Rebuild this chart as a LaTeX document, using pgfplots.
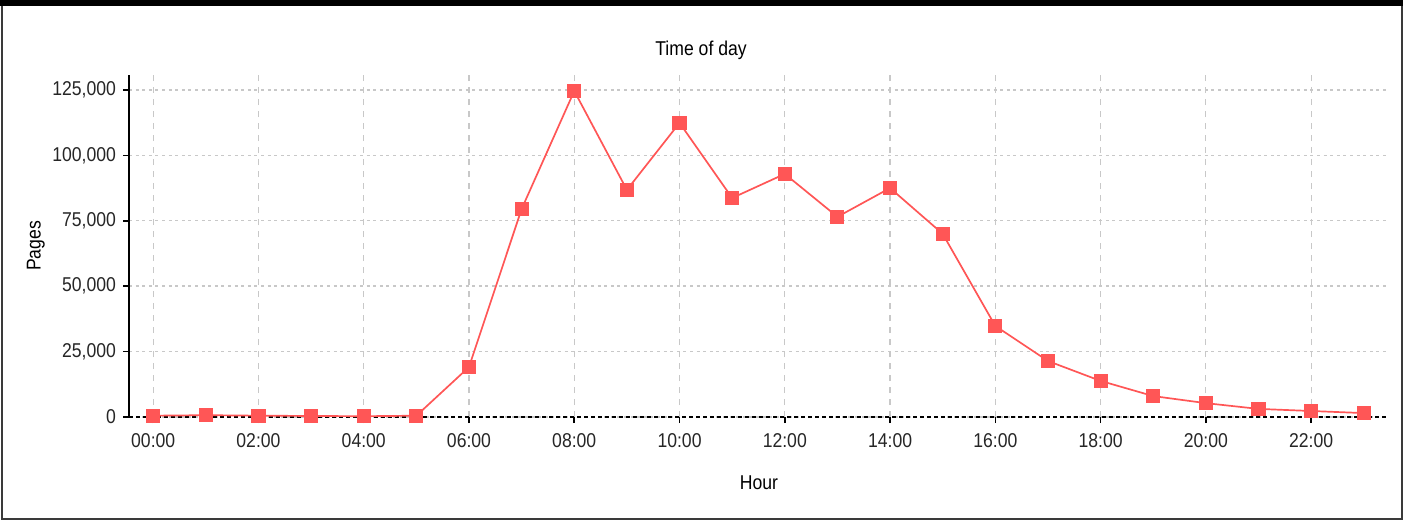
\documentclass[border=0pt]{standalone}
\usepackage{fontspec}
\setmainfont[FakeStretch=0.88]{Liberation Sans}
\usepackage{pgfplots}
\pgfplotsset{compat=1.18}
\definecolor{linered}{HTML}{FF5656}
\definecolor{gridgray}{HTML}{C8C8C8}
\definecolor{framegray}{HTML}{3A3A3A}
\begin{document}
\begin{tikzpicture}
  % page frame (1px = 0.5pt)
  \path (0,0) rectangle (706.5pt,-260.5pt);
  \draw[framegray, line width=1pt] (1pt,-1pt) rectangle (701pt,-259.5pt);
  \fill[black] (0,0) rectangle (701.5pt,-2.75pt);
  \begin{axis}[
      at={(64.5pt,-208.5pt)}, anchor=south west,
      scale only axis,
      width=630pt, height=171pt,
      xmin=-0.46, xmax=23.48,
      ymin=0, ymax=130700,
      axis lines*=left,
      x axis line style={black, line width=1pt, dash pattern=on 2pt off 1.5pt},
      y axis line style={black, line width=0.9pt},
      tick align=outside,
      major tick length=3pt,
      tick style={black, line width=0.8pt},
      xtick={0,2,...,22},
      xticklabels={00:00,02:00,04:00,06:00,08:00,10:00,12:00,14:00,16:00,18:00,20:00,22:00},
      ytick={0,25000,50000,75000,100000,125000},
      scaled y ticks=false,
      /pgf/number format/.cd, fixed, 1000 sep={,}, assume math mode=true,
      /pgfplots/.cd,
      ticklabel style={font=\fontsize{10}{12}\selectfont, text=black!85},
      xticklabel style={yshift=-1.5pt},
      xmajorgrids=true, ymajorgrids=true,
      x grid style={gridgray, line width=0.6pt, dash pattern=on 3pt off 3pt},
      y grid style={gridgray, line width=0.7pt, dash pattern=on 1.5pt off 1.8pt},
      title={Time of day},
      title style={at={(axis description cs:0.454,1.038)}, anchor=center, font=\fontsize{10}{12}\selectfont},
      xlabel={Hour},
      xlabel style={at={(axis description cs:0.5,-0.193)}, anchor=center, font=\fontsize{10}{12}\selectfont},
      ylabel={Pages},
      ylabel style={at={(axis description cs:-0.074,0.5)}, anchor=center, rotate=0, font=\fontsize{10}{12}\selectfont},
      clip=false,
    ]
    \addplot[color=linered, line width=0.85pt, mark=square*, mark size=3.1pt,
      mark options={solid, fill=linered, draw=linered}] coordinates {
      (0,500)(1,700)(2,500)(3,400)(4,300)(5,500)
      (6,19100)(7,79500)(8,124600)(9,86800)(10,112400)(11,83700)
      (12,92900)(13,76500)(14,87500)(15,70000)(16,34800)(17,21400)
      (18,13800)(19,8000)(20,5300)(21,3100)(22,2300)(23,1500)
    };
  \end{axis}
\end{tikzpicture}
\end{document}
